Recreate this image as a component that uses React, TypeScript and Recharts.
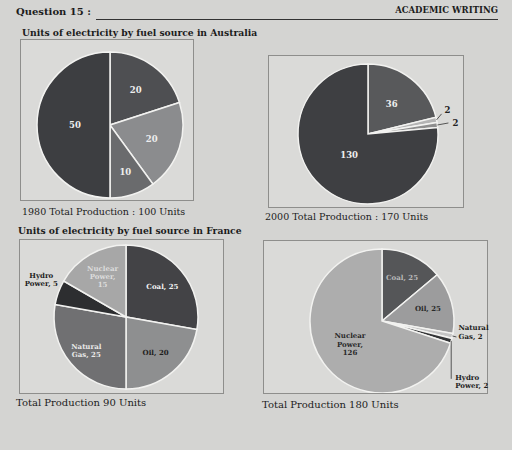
import { PieChart, Pie, Cell } from "recharts";

const SERIF = '"DejaVu Serif", "Liberation Serif", serif';
const RAD = Math.PI / 180;

// slices listed clockwise from 12 o'clock
const aus1980Sources = ["Hydro Power", "Natural Gas", "Oil", "Coal"];
const aus1980Units = [20, 20, 10, 50];
const aus2000Sources = ["Hydro Power", "Natural Gas", "Oil", "Coal"];
const aus2000Units = [36, 2, 2, 130];
const fr1980Sources = ["Coal", "Oil", "Natural Gas", "Hydro Power", "Nuclear Power"];
const fr1980Units = [25, 20, 25, 5, 15];
const fr2000Sources = ["Coal", "Oil", "Natural Gas", "Hydro Power", "Nuclear Power"];
const fr2000Units = [25, 25, 2, 2, 126];

type LabelStyle = {
  fill: string;
  text: "value" | "one" | "two" | "three";
  r?: number;
  out?: [number, number];
  leader?: [number, number][];
  anchor?: "start" | "middle" | "end";
};

const aus1980Colors = ["#4e4f52", "#8b8c8e", "#6a6b6d", "#3d3e41"];
const aus1980Labels: LabelStyle[] = [
  { fill: "#eeeeee", text: "value", r: 0.6 },
  { fill: "#eeeeee", text: "value", r: 0.6 },
  { fill: "#eeeeee", text: "value", r: 0.68 },
  { fill: "#eeeeee", text: "value", r: 0.48 },
];

const aus2000Colors = ["#58595b", "#b4b4b4", "#8e8e8e", "#3e3f42"];
const aus2000Labels: LabelStyle[] = [
  { fill: "#eeeeee", text: "value", r: 0.55 },
  { fill: "#222", text: "value", out: [8, -10], leader: [[5, -6]], anchor: "start" },
  { fill: "#222", text: "value", out: [15, -2], leader: [[11, -2]], anchor: "start" },
  { fill: "#eeeeee", text: "value", r: 0.4 },
];

const fr1980Colors = ["#434346", "#8e8f90", "#707072", "#2d2e30", "#a7a7a7"];
const fr1980Labels: LabelStyle[] = [
  { fill: "#f2f2f2", text: "one", r: 0.66 },
  { fill: "#1e1e1e", text: "one", r: 0.64 },
  { fill: "#e8e8e8", text: "two", r: 0.72 },
  { fill: "#1e1e1e", text: "two", out: [-17, -13] },
  { fill: "#dcdcdc", text: "three", r: 0.65 },
];

const fr2000Colors = ["#555658", "#9c9c9d", "#c4c4c4", "#333436", "#adadad"];
const fr2000Labels: LabelStyle[] = [
  { fill: "#b8b8b8", text: "one", r: 0.66 },
  { fill: "#2a2a2a", text: "one", r: 0.66 },
  { fill: "#1e1e1e", text: "two", out: [6, -4], leader: [[4, 1]], anchor: "start" },
  { fill: "#1e1e1e", text: "two", out: [4, 41], leader: [[0, 38]], anchor: "start" },
  { fill: "#2a2a2a", text: "three", r: 0.55 },
];

function labelLines(name: string, value: number, mode: LabelStyle["text"]): string[] {
  const [first, rest] = name.split(" ");
  if (mode === "value") return [String(value)];
  if (mode === "one") return [`${name}, ${value}`];
  if (mode === "two") return [first, `${rest}, ${value}`];
  return [first, `${rest},`, String(value)];
}

function makeLabel(names: string[], styles: LabelStyle[], fontSize: number) {
  return (props: any) => {
    const { cx, cy, midAngle, outerRadius, index, value } = props;
    const s = styles[index];
    const lines = labelLines(names[index], value, s.text);
    const cos = Math.cos(-midAngle * RAD);
    const sin = Math.sin(-midAngle * RAD);
    let x: number;
    let y: number;
    let leader = null;
    if (s.out) {
      const ex = cx + outerRadius * cos;
      const ey = cy + outerRadius * sin;
      x = ex + s.out[0];
      y = ey + s.out[1];
      if (s.leader) {
        const pts = [[ex, ey], ...s.leader.map(([dx, dy]) => [ex + dx, ey + dy])];
        leader = (
          <polyline points={pts.map((p) => p.join(",")).join(" ")} fill="none" stroke="#333" strokeWidth={0.8} />
        );
      }
    } else {
      x = cx + outerRadius * (s.r ?? 0.6) * cos;
      y = cy + outerRadius * (s.r ?? 0.6) * sin;
    }
    const lh = fontSize * 1.2;
    const y0 = y - ((lines.length - 1) * lh) / 2 + fontSize * 0.35;
    return (
      <g>
        {leader}
        <text
          x={x}
          y={y0}
          textAnchor={s.anchor ?? "middle"}
          fill={s.fill}
          fontSize={fontSize}
          fontWeight="bold"
          fontFamily={SERIF}
        >
          {lines.map((l, i) => (
            <tspan key={i} x={x} y={y0 + i * lh}>
              {l}
            </tspan>
          ))}
        </text>
      </g>
    );
  };
}

interface FuelPieProps {
  names: string[];
  values: number[];
  colors: string[];
  labels: LabelStyle[];
  left: number;
  top: number;
  width: number;
  height: number;
  cx: number;
  cy: number;
  r: number;
  fontSize: number;
}

function FuelPie({ names, values, colors, labels, left, top, width, height, cx, cy, r, fontSize }: FuelPieProps) {
  const data = names.map((name, i) => ({ name, value: values[i] }));
  return (
    <div
      style={{
        position: "absolute",
        left,
        top,
        width,
        height,
        border: "1px solid #8e8e8c",
        background: "#dadad8",
      }}
    >
      {/* chart is wider than its frame so outside labels can spill past the border */}
      <PieChart width={width + 40} height={height} margin={{ top: 0, right: 0, bottom: 0, left: 0 }}>
        <Pie
          data={data}
          dataKey="value"
          cx={cx}
          cy={cy}
          outerRadius={r}
          startAngle={90}
          endAngle={-270}
          stroke="#f2f2f0"
          strokeWidth={1.5}
          labelLine={false}
          label={makeLabel(names, labels, fontSize)}
          isAnimationActive={false}
        >
          {data.map((_, i) => (
            <Cell key={i} fill={colors[i]} />
          ))}
        </Pie>
      </PieChart>
    </div>
  );
}

const txt = (left: number, top: number, size: number, bold: boolean, extra: any = {}) => ({
  position: "absolute" as const,
  left,
  top,
  fontSize: size,
  fontWeight: bold ? "bold" : "normal",
  fontFamily: SERIF,
  lineHeight: 1,
  whiteSpace: "nowrap" as const,
  color: "#1c1c1c",
  ...extra,
});

export default function App() {
  return (
    <div
      style={{
        position: "absolute",
        left: 0,
        top: 0,
        width: 512,
        height: 450,
        overflow: "hidden",
        background: "#d4d4d2",
      }}
    >
      <div style={txt(16, 7, 10, true)}>Question 15 :</div>
      <div style={txt(0, 6, 8.5, true, { left: "auto", right: 14 })}>ACADEMIC WRITING</div>
      <div style={{ position: "absolute", left: 96, top: 19, width: 402, height: 1, background: "#333" }} />
      <div style={txt(22, 28, 9.2, true)}>Units of electricity by fuel source in Australia</div>

      <FuelPie
        names={aus1980Sources}
        values={aus1980Units}
        colors={aus1980Colors}
        labels={aus1980Labels}
        left={20}
        top={39}
        width={172}
        height={160}
        cx={89}
        cy={85}
        r={73}
        fontSize={8.5}
      />
      <div style={txt(22, 207, 9.5, false)}>1980 Total Production : 100 Units</div>

      <FuelPie
        names={aus2000Sources}
        values={aus2000Units}
        colors={aus2000Colors}
        labels={aus2000Labels}
        left={268}
        top={55}
        width={194}
        height={151}
        cx={99}
        cy={78}
        r={70}
        fontSize={8.5}
      />
      <div style={txt(265, 212, 9.5, false)}>2000 Total Production : 170 Units</div>

      <div style={txt(18, 226, 9.2, true)}>Units of electricity by fuel source in France</div>

      <FuelPie
        names={fr1980Sources}
        values={fr1980Units}
        colors={fr1980Colors}
        labels={fr1980Labels}
        left={19}
        top={239}
        width={203}
        height={153}
        cx={106}
        cy={77}
        r={72}
        fontSize={7}
      />
      <div style={txt(16, 398, 10, false)}>Total Production 90 Units</div>

      <FuelPie
        names={fr2000Sources}
        values={fr2000Units}
        colors={fr2000Colors}
        labels={fr2000Labels}
        left={263}
        top={240}
        width={223}
        height={152}
        cx={118}
        cy={80}
        r={72}
        fontSize={7}
      />
      <div style={txt(262, 400, 10, false)}>Total Production 180 Units</div>
    </div>
  );
}
